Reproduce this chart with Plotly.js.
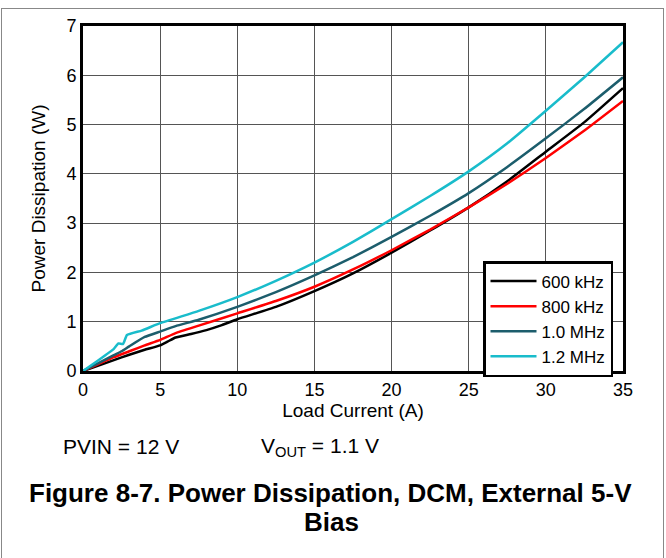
<!DOCTYPE html>
<html>
<head>
<meta charset="utf-8">
<script src="https://cdn.plot.ly/plotly-3.0.1.min.js"></script>
<style>
  html, body { margin: 0; padding: 0; background: #fff; }
  #wrap { position: relative; width: 666px; height: 558px; overflow: hidden; }
  #chart { position: absolute; left: 0; top: 0; width: 666px; height: 558px; }
  #frame { position: absolute; left: 1px; top: 8px; width: 661px; height: 560px;
           border-top: 1px solid #888; border-left: 1px solid #888; border-right: 1px solid #888;
           pointer-events: none; }
</style>
</head>
<body>
<div id="wrap">
  <div id="chart"></div>
  <div id="frame"></div>
</div>
<script>
// Load current (A) and power dissipation (W) per switching frequency
const x600 = [0, 1, 2, 3, 4, 5, 5.5, 6, 7, 8, 9, 10, 12.5, 15, 17.5, 20, 22.5, 25, 27.5, 30, 32.5, 35];
const y600 = [0, 0.11, 0.22, 0.33, 0.43, 0.52, 0.6, 0.68, 0.75, 0.83, 0.93, 1.05, 1.30, 1.62, 1.98, 2.40, 2.85, 3.32, 3.85, 4.45, 5.05, 5.74];

const x800 = [0, 1, 2, 3, 4, 5, 6, 7.5, 10, 12.5, 15, 17.5, 20, 22.5, 25, 27.5, 30, 32.5, 35];
const y800 = [0, 0.14, 0.28, 0.40, 0.52, 0.63, 0.77, 0.92, 1.17, 1.42, 1.71, 2.06, 2.45, 2.87, 3.32, 3.80, 4.32, 4.88, 5.48];

const x1000 = [0, 1, 2, 2.5, 3, 4, 5, 6, 7.5, 10, 12.5, 15, 17.5, 20, 22.5, 25, 27.5, 30, 32.5, 35];
const y1000 = [0, 0.16, 0.32, 0.40, 0.50, 0.69, 0.80, 0.91, 1.04, 1.30, 1.60, 1.94, 2.31, 2.72, 3.15, 3.61, 4.14, 4.72, 5.32, 5.96];

const x1200 = [0, 1, 2, 2.3, 2.6, 2.85, 3.8, 5, 7.5, 10, 12.5, 15, 17.5, 20, 22.5, 25, 27.5, 30, 32.5, 35];
const y1200 = [0, 0.22, 0.45, 0.56, 0.55, 0.73, 0.82, 0.97, 1.22, 1.50, 1.83, 2.20, 2.62, 3.08, 3.55, 4.05, 4.62, 5.28, 5.96, 6.67];

const seriesNames = ["600 kHz", "800 kHz", "1.0 MHz", "1.2 MHz"];
const seriesColors = ["#000000", "#ff0000", "#1c5d6c", "#19bccb"];
const xTicks = [0, 5, 10, 15, 20, 25, 30, 35];
const yTicks = [0, 1, 2, 3, 4, 5, 6, 7];

const xs = [x600, x800, x1000, x1200];
const ys = [y600, y800, y1000, y1200];

const traces = xs.map((xv, i) => ({
  x: xv, y: ys[i], type: "scatter", mode: "lines", name: seriesNames[i],
  line: { color: seriesColors[i], width: 2.5, shape: "spline", smoothing: 0.4 }
}));

const font = "Liberation Sans, Arial, sans-serif";
// helpers converting page pixels to paper coordinates (plot area 83..623 x 26..371)
const px = v => (v - 83) / 540;
const py = v => (371 - v) / 345;

const layout = {
  width: 666, height: 558,
  margin: { l: 83, r: 43, t: 26, b: 187 },
  paper_bgcolor: "#fff", plot_bgcolor: "#fff",
  font: { family: font, size: 18, color: "#000" },
  showlegend: true,
  legend: {
    x: px(483), y: py(261), xanchor: "left", yanchor: "top",
    bgcolor: "#fff", bordercolor: "#000", borderwidth: 2.5,
    font: { family: font, size: 17, color: "#000" },
    tracegroupgap: 0, itemwidth: 46
  },
  xaxis: {
    range: [0, 35], tickvals: xTicks, ticktext: xTicks.map(String),
    showgrid: true, gridcolor: "#555", gridwidth: 1,
    showline: true, linecolor: "#000", linewidth: 3, mirror: true,
    ticks: "", zeroline: false,
    tickfont: { family: font, size: 18 },
    title: { text: "Load Current (A)", font: { family: font, size: 19 }, standoff: 0 }
  },
  yaxis: {
    range: [0, 7], tickvals: yTicks, ticktext: yTicks.map(String),
    showgrid: true, gridcolor: "#555", gridwidth: 1,
    showline: true, linecolor: "#000", linewidth: 3, mirror: true,
    ticks: "", zeroline: false,
    tickfont: { family: font, size: 18 },
    title: { text: "Power Dissipation (W)", font: { family: font, size: 19 }, standoff: 16 }
  },
  annotations: [
    { xref: "paper", yref: "paper", x: px(61), y: py(447), xanchor: "left", yanchor: "middle",
      text: "PVIN = 12 V", showarrow: false, font: { family: font, size: 21 } },
    { xref: "paper", yref: "paper", x: px(259), y: py(447), xanchor: "left", yanchor: "middle",
      text: "V<sub>OUT</sub> = 1.1 V", showarrow: false, font: { family: font, size: 21 } },
    { xref: "paper", yref: "paper", x: px(330), y: py(493), xanchor: "center", yanchor: "middle",
      text: "<b>Figure 8-7. Power Dissipation, DCM, External 5-V</b>", showarrow: false,
      font: { family: font, size: 26 } },
    { xref: "paper", yref: "paper", x: px(331), y: py(522), xanchor: "center", yanchor: "middle",
      text: "<b>Bias</b>", showarrow: false, font: { family: font, size: 26 } }
  ]
};

Plotly.newPlot("chart", traces, layout, { displayModeBar: false, staticPlot: true });
</script>
</body>
</html>
